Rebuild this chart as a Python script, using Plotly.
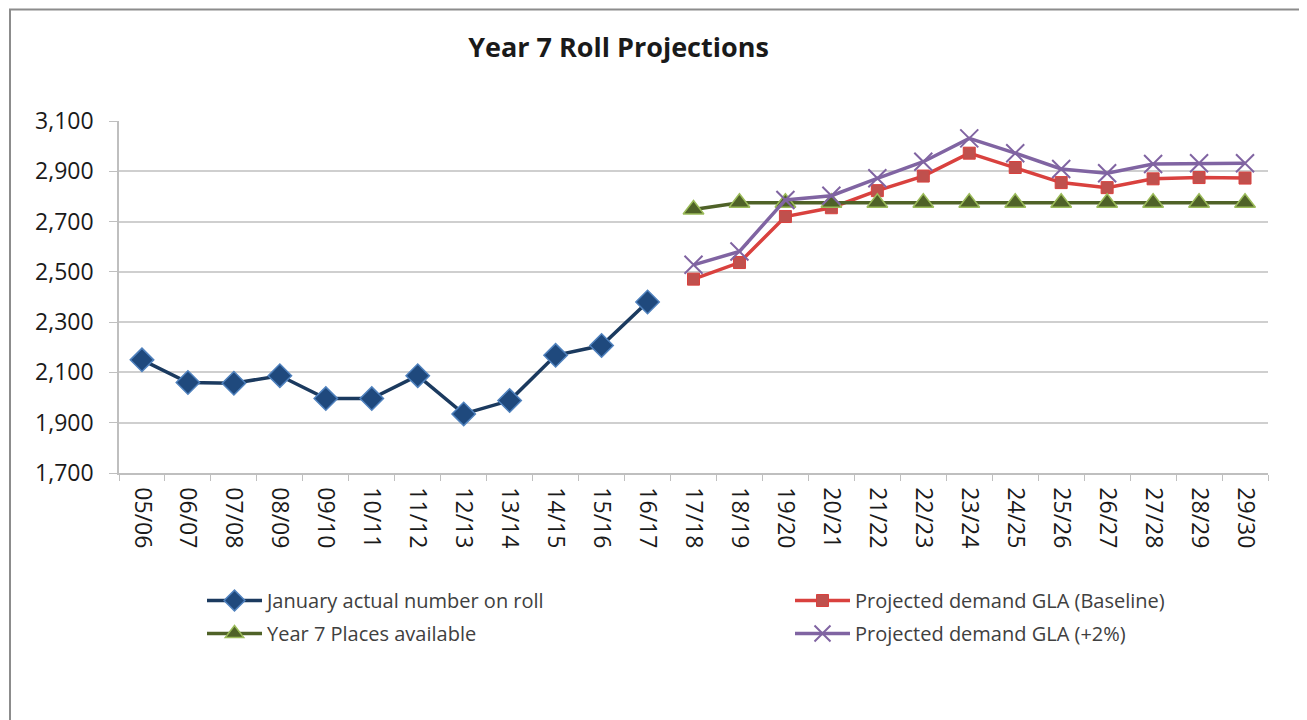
import plotly.graph_objects as go

years = ["05/06", "06/07", "07/08", "08/09", "09/10", "10/11", "11/12", "12/13",
         "13/14", "14/15", "15/16", "16/17", "17/18", "18/19", "19/20", "20/21",
         "21/22", "22/23", "23/24", "24/25", "25/26", "26/27", "27/28", "28/29", "29/30"]

actual_roll = [2150, 2060, 2057, 2087, 1996, 1996, 2087, 1935, 1988, 2168, 2207, 2380]
baseline = [2471, 2537, 2720, 2755, 2823, 2881, 2972, 2915, 2855, 2835, 2870, 2875, 2873]
places = [2748, 2775, 2775, 2775, 2775, 2775, 2775, 2775, 2775, 2775, 2775, 2775, 2775]
plus_two = [2528, 2581, 2786, 2803, 2872, 2938, 3031, 2972, 2909, 2892, 2929, 2932, 2932]

n_hist = len(actual_roll)
pad = [None] * n_hist

FONT = "Open Sans"
TXT = "#404040"

fig = go.Figure()
fig.add_trace(go.Scatter(
    x=years[:n_hist], y=actual_roll, name="January actual number on roll",
    mode="lines+markers", line=dict(color="#1B3A5F", width=3.5),
    marker=dict(symbol="diamond", size=18, color="#1F497D", line=dict(color="#4F81BD", width=1.5)),
    legend="legend", legendgroup="a"))
fig.add_trace(go.Scatter(
    x=years, y=pad + baseline, name="Projected demand GLA (Baseline)",
    mode="lines+markers", line=dict(color="#D9413E", width=3.5),
    marker=dict(symbol="square", size=12, color="#C0504D", line=dict(color="#D9413E", width=1)),
    legend="legend2", legendgroup="b"))
fig.add_trace(go.Scatter(
    x=years, y=pad + places, name="Year 7 Places available",
    mode="lines+markers", line=dict(color="#4F6228", width=3.5),
    marker=dict(symbol="triangle-up", size=18, color="#4F6228", line=dict(color="#9BBB59", width=1.5)),
    legend="legend", legendgroup="c"))
fig.add_trace(go.Scatter(
    x=years, y=pad + plus_two, name="Projected demand GLA (+2%)",
    mode="lines+markers", line=dict(color="#8064A2", width=3.5),
    marker=dict(symbol="x-thin-open", size=18, color="#8064A2", line=dict(color="#8064A2", width=2)),
    legend="legend2", legendgroup="d"))

# page has an 8px body margin, so figure coordinates = screen - 8
OFF = 8
W, H = 1307 - OFF, 720 - OFF
L = 119 - OFF
T = 121 - OFF
R = W - (1268 - OFF)
B = H - (473 - OFF)
pw, ph = W - L - R, H - T - B

def px_x(x):
    return (x - OFF - L) / pw

def px_y(y):
    return (H - B - (y - OFF)) / ph

fig.update_layout(
    width=W, height=H,
    margin=dict(l=L, r=R, t=T, b=B),
    paper_bgcolor="white", plot_bgcolor="white",
    font=dict(family=FONT, color=TXT),
    title=dict(text="<b>Year 7 Roll Projections</b>", x=px_x(659), xanchor="center",
               y=1 - (48 - OFF) / H, yanchor="middle", font=dict(family=FONT, size=27, color="#1a1a1a")),
    showlegend=True,
    legend=dict(x=px_x(202), xanchor="left", y=px_y(581), yanchor="top",
                orientation="v", font=dict(size=20, color=TXT), itemwidth=55,
                tracegroupgap=4, bgcolor="rgba(0,0,0,0)"),
    legend2=dict(x=px_x(790), xanchor="left", y=px_y(581), yanchor="top",
                 orientation="v", font=dict(size=20, color=TXT), itemwidth=55,
                 tracegroupgap=4, bgcolor="rgba(0,0,0,0)"),
    xaxis=dict(type="category", categoryorder="array", categoryarray=years,
               range=[-0.5, len(years) - 0.5], tickangle=90,
               showline=True, linecolor="#BFBFBF", linewidth=1.5,
               ticks="outside", tickson="boundaries", ticklen=6, tickcolor="#BFBFBF",
               showgrid=False, tickfont=dict(size=23, color="#1a1a1a"), zeroline=False,
               ticklabelstandoff=8),
    yaxis=dict(range=[1700, 3100], dtick=200, tick0=1700, tickformat=",",
               showline=True, linecolor="#BFBFBF", linewidth=1.5,
               ticks="outside", ticklen=8, tickcolor="#BFBFBF",
               showgrid=True, gridcolor="#CFCFCF", gridwidth=1.5,
               tickfont=dict(size=23, color="#1a1a1a"), zeroline=False,
               ticklabelstandoff=11),
)

fig.add_shape(type="rect", xref="paper", yref="paper",
              x0=px_x(10), x1=px_x(1303), y0=px_y(740), y1=px_y(9.5),
              line=dict(color="#8C8C8C", width=2), fillcolor="rgba(0,0,0,0)", layer="below")

fig.write_html("out.html")
